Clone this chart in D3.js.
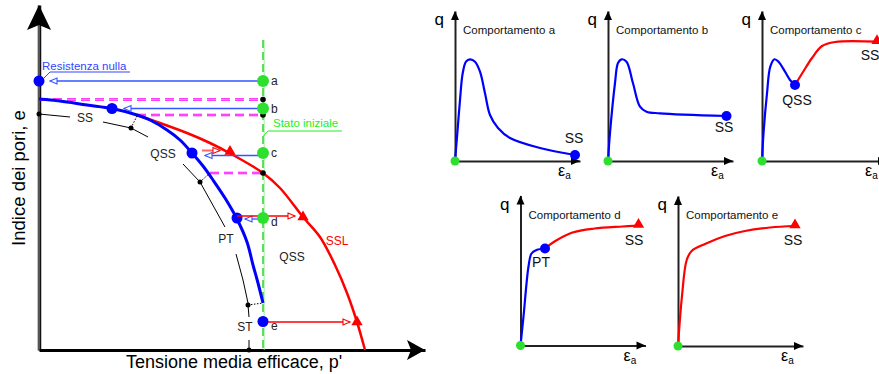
<!DOCTYPE html>
<html>
<head>
<meta charset="utf-8">
<script src="https://cdn.jsdelivr.net/npm/d3@7"></script>
<style>
  body { margin: 0; background: #fff; }
  svg { font-family: "Liberation Sans", Arial, sans-serif; display: block; }
</style>
</head>
<body>
<div id="chart"></div>
<script>
// ---- main diagram, drawing units: p' to the right, e upward ----
var qssLine = [[0,251],[21,249],[48,245],[73,241.5],[98,235],[111,230],[128,220],[141,210],[153,197],[164,184],[174,170],[186,152],[198,131],[208,108],[214,85],[219,67],[224,47]];
var sslLine = [[98,235],[121,227],[148,217],[171,207],[194,195],[224,177],[241,162],[264,133],[281,113],[296,85],[308,57],[318,28],[326,0]];
var initP = 224; // stato iniziale

var startNames = ['a','b','c','d','e'];
var startE = [269, 241.5, 197, 132, 28.5];

// undrained paths going left to the QSS line
var collapseE = [269, 241.5, 194.5, 131];
var collapseTip = [11, 85, 166, 206];
var qssDotP = [0, 73, 153, 198];
var qssDotE = [269, 241.5, 197, 132];

// paths going right to the SSL
var hardenFrom = [163, 198, 224];
var hardenTip = [181, 256, 311];
var hardenE = [199.5, 134, 28];
var sslHitP = [191, 264, 318];
var sslHitE = [198.5, 133, 28];

// dashed magenta bands
var bandE = [250.5, 235, 177];
var bandFrom = [0, 98, 171];

// black zone boundaries
var boundSegs = [
  [[0,236],[31,233]],
  [[64,228],[92,222],[109,213]],
  [[144,186],[161,168],[186,123]],
  [[197,96],[204,70],[209,47]],
  [[209,45],[210,33]],
  [[210,10],[210,0]]
];
var boundDots = [[0,236],[92,222],[161,168],[209,45],[210,0]];
var tieSegs = [[[92,222],[98,234]], [[161,168],[171,177]], [[209,45],[224,47]]];

var zoneNames = ['SS','QSS','PT','QSS','ST'];
var zoneP = [46, 124, 187, 253, 206];
var zoneE = [232, 196, 111, 93, 23];

// ---- small q - eps_a panels ----
var panelTitles = ['Comportamento a','Comportamento b','Comportamento c','Comportamento d','Comportamento e'];
var curveA = [[0,0],[2.3,27.7],[5,61],[7.7,87.7],[11,99.3],[15,101.7],[20,99.3],[25,89.3],[30,67.7],[35,46],[43,33],[55,23],[85,13],[120,6]];
var curveB = [[0,0],[2,28],[7,78],[10,98],[13.5,101.7],[18.5,99.3],[25,77.7],[32,54.3],[38.5,49.3],[52,47.7],[118.5,45]];
var curveCqss = [[0,0],[1.5,27.7],[5,67.7],[8.3,94.3],[12.5,101.7],[16.5,99.3],[23,89.3],[28,81],[33,76]];
var curveCss = [[33,76],[41,89],[50,103],[60,115],[73,119],[115,119.3]];
var curveDpt = [[0,0],[3,29],[8,79],[11,92],[16,95.5],[24.5,97]];
var curveDss = [[24.5,97],[34,104],[52,113],[74,117],[102,119],[118,120]];
var curveE = [[0,0],[4,50],[8.7,86],[13.7,95],[27,102],[47,110],[67,115],[92,118.5],[117,120]];

var endLabels = [
  [['SS',119,23]],
  [['SS',116,34]],
  [['QSS',35,61],['SS',108,106]],
  [['PT',20.5,83.5],['SS',113.5,105.5]],
  [['SS',115,106]]
];

var BLUE = '#0000ff', RED = '#ff0000', GREEN = '#2ee02e', MAG = '#ff00ff';

var svg = d3.select('#chart').append('svg')
  .attr('width', 879).attr('height', 374);

var x = d3.scaleLinear().domain([0, 386]).range([39, 425]);
var y = d3.scaleLinear().domain([0, 345]).range([350, 5]);

var line = d3.line().x(function(d){ return x(d[0]); }).y(function(d){ return y(d[1]); });
var smooth = d3.line().curve(d3.curveCatmullRom.alpha(0.5))
  .x(function(d){ return x(d[0]); }).y(function(d){ return y(d[1]); });

function openHead(g, tx, ty, dir, color) {
  g.append('path')
    .attr('d', 'M' + tx + ',' + ty + 'L' + (tx - dir * 7) + ',' + (ty - 3) + 'L' + (tx - dir * 7) + ',' + (ty + 3) + 'Z')
    .attr('fill', '#fff').attr('stroke', color).attr('stroke-width', 1.1);
}
function redTri(g, cx, cy, size) {
  g.append('path')
    .attr('d', d3.symbol(d3.symbolTriangle).size(size || 50)())
    .attr('transform', 'translate(' + cx + ',' + cy + ')')
    .attr('fill', RED);
}

var main = svg.append('g');

// axes
var yAx = main.append('g').attr('transform', 'translate(' + x(0) + ',0)')
  .call(d3.axisLeft(y).ticks(0).tickSizeOuter(0));
yAx.select('.domain').attr('stroke', '#111').attr('stroke-width', 3.5);
main.append('line').attr('x1', x(0)).attr('x2', x(0)).attr('y1', y(0)).attr('y2', y(330))
  .attr('stroke', '#999').attr('stroke-width', 1);
var xAx = main.append('g').attr('transform', 'translate(0,' + y(0) + ')')
  .call(d3.axisBottom(x).ticks(0).tickSizeOuter(0));
xAx.select('.domain').attr('stroke', '#000').attr('stroke-width', 3);

var ty0 = y(345), tx0 = x(386);
main.append('path')
  .attr('d', 'M' + x(0) + ',' + ty0 + 'L' + (x(0) - 12) + ',' + (ty0 + 25) + 'L' + x(0) + ',' + (ty0 + 20) + 'L' + (x(0) + 12) + ',' + (ty0 + 25) + 'Z')
  .attr('fill', '#000');
main.append('path')
  .attr('d', 'M' + tx0 + ',' + y(0) + 'L' + (tx0 - 18) + ',' + (y(0) - 10) + 'L' + (tx0 - 14) + ',' + y(0) + 'L' + (tx0 - 18) + ',' + (y(0) + 10) + 'Z')
  .attr('fill', '#000');

main.append('text')
  .attr('transform', 'translate(19,' + y(172) + ') rotate(-90)')
  .attr('text-anchor', 'middle').attr('dy', '0.35em')
  .style('font-size', '18.5px').text('Indice dei pori, e');
main.append('text')
  .attr('x', 234).attr('y', 368).attr('text-anchor', 'middle')
  .style('font-size', '18px').text("Tensione media efficace, p'");

// initial state line
main.append('line')
  .attr('x1', x(initP) + 1.2).attr('x2', x(initP) + 1.2).attr('y1', y(310)).attr('y2', y(0))
  .attr('stroke', '#8e8').attr('stroke-width', 0.8);
main.append('line')
  .attr('x1', x(initP)).attr('x2', x(initP)).attr('y1', y(310)).attr('y2', y(0))
  .attr('stroke', '#1c1').attr('stroke-width', 1.3).attr('stroke-dasharray', '8,4');

// dashed bands
bandE.forEach(function(e, i){
  main.append('line')
    .attr('x1', x(bandFrom[i])).attr('x2', x(initP)).attr('y1', y(e)).attr('y2', y(e))
    .attr('stroke', MAG).attr('stroke-width', 2.6).attr('stroke-dasharray', '9,5');
  main.append('line')
    .attr('x1', x(bandFrom[i])).attr('x2', x(initP)).attr('y1', y(e)).attr('y2', y(e))
    .attr('stroke', '#fbf').attr('stroke-width', 0.7).attr('stroke-dasharray', '9,5');
});

// SSL and QSS lines
main.append('path').datum(sslLine).attr('d', smooth)
  .attr('fill', 'none').attr('stroke', RED).attr('stroke-width', 2.5);
main.append('path').datum(qssLine).attr('d', smooth)
  .attr('fill', 'none').attr('stroke', BLUE).attr('stroke-width', 3);

// boundaries
boundSegs.forEach(function(s){
  main.append('path').datum(s).attr('d', line)
    .attr('fill', 'none').attr('stroke', '#000').attr('stroke-width', 1);
});
tieSegs.forEach(function(s){
  main.append('path').datum(s).attr('d', line)
    .attr('fill', 'none').attr('stroke', '#000').attr('stroke-width', 1).attr('stroke-dasharray', '1.5,1.5');
});
boundDots.forEach(function(d){
  main.append('circle').attr('cx', x(d[0])).attr('cy', y(d[1])).attr('r', 2.5).attr('fill', '#000');
});
bandE.forEach(function(e){
  main.append('circle').attr('cx', x(initP)).attr('cy', y(e)).attr('r', 2.8).attr('fill', '#000');
});

// arrows to the QSS line
collapseE.forEach(function(e, i){
  main.append('line')
    .attr('x1', x(initP)).attr('x2', x(collapseTip[i])).attr('y1', y(e)).attr('y2', y(e))
    .attr('stroke', '#3355ff').attr('stroke-width', 1.3);
  openHead(main, x(collapseTip[i]), y(e), -1, '#3355ff');
  main.append('circle').attr('cx', x(qssDotP[i])).attr('cy', y(qssDotE[i])).attr('r', 5.5).attr('fill', BLUE);
});

// arrows to the SSL
hardenE.forEach(function(e, i){
  main.append('line')
    .attr('x1', x(hardenFrom[i])).attr('x2', x(hardenTip[i])).attr('y1', y(e)).attr('y2', y(e))
    .attr('stroke', i === 0 ? '#ff6666' : RED).attr('stroke-width', i === 0 ? 2 : 1.3);
  openHead(main, x(hardenTip[i]), y(e), 1, RED);
  redTri(main, x(sslHitP[i]), y(sslHitE[i]), 55);
});

// starting points
startE.forEach(function(e, i){
  main.append('circle').attr('cx', x(initP)).attr('cy', y(e)).attr('r', i === 4 ? 5.5 : 6)
    .attr('fill', i === 4 ? BLUE : GREEN);
  main.append('text').attr('x', x(initP) + 8).attr('y', y(e) + (i >= 3 ? 8 : 4))
    .style('font-size', '12px').attr('fill', '#222').text(startNames[i]);
});

// zone labels
zoneNames.forEach(function(t, i){
  main.append('text').attr('x', x(zoneP[i])).attr('y', y(zoneE[i])).attr('dy', '0.35em')
    .attr('text-anchor', 'middle').style('font-size', '12px').attr('fill', '#222').text(t);
});
main.append('text').attr('x', x(298)).attr('y', y(109)).attr('dy', '0.35em')
  .attr('text-anchor', 'middle').style('font-size', '12px').attr('fill', RED).text('SSL');

// callouts
main.append('text').attr('x', x(3)).attr('y', y(280)).style('font-size', '11.5px')
  .attr('fill', '#3344ff').text('Resistenza nulla');
main.append('path').datum([[5,272],[11,278],[91,278]]).attr('d', line)
  .attr('fill', 'none').attr('stroke', '#3344ff').attr('stroke-width', 1);
main.append('text').attr('x', x(234)).attr('y', y(223)).style('font-size', '11.5px')
  .attr('fill', '#22ee22').text('Stato iniziale');
main.append('path').datum([[224.5,214],[229,219],[303,219]]).attr('d', line)
  .attr('fill', 'none').attr('stroke', '#22ee22').attr('stroke-width', 1);

// ---- small panels ----
var origins = [[455,161],[608,161],[762,161],[520.5,345.5],[678,346]];
var panelCurves = [
  [[curveA, BLUE]],
  [[curveB, BLUE]],
  [[curveCqss, BLUE],[curveCss, RED]],
  [[curveDpt, BLUE],[curveDss, RED]],
  [[curveE, RED]]
];

origins.forEach(function(o, k){
  var px = d3.scaleLinear().domain([0, 125]).range([o[0], o[0] + 125]);
  var py = d3.scaleLinear().domain([0, 150]).range([o[1], o[1] - 150]);
  var g = svg.append('g');
  var pl = d3.line().curve(d3.curveCatmullRom.alpha(0.5))
    .x(function(d){ return px(d[0]); }).y(function(d){ return py(d[1]); });

  var ya = g.append('g').attr('transform', 'translate(' + px(0) + ',0)')
    .call(d3.axisLeft(py).ticks(0).tickSizeOuter(0));
  ya.select('.domain').attr('stroke', '#222').attr('stroke-width', 2);
  var xa = g.append('g').attr('transform', 'translate(0,' + py(0) + ')')
    .call(d3.axisBottom(px).ticks(0).tickSizeOuter(0));
  xa.select('.domain').attr('stroke', '#222').attr('stroke-width', 2);

  var tipY = py(150), tipX = px(125);
  g.append('path')
    .attr('d', 'M' + px(0) + ',' + tipY + 'L' + (px(0) - 4) + ',' + (tipY + 9) + 'L' + (px(0) + 4) + ',' + (tipY + 9) + 'Z')
    .attr('fill', '#000');
  g.append('path')
    .attr('d', 'M' + tipX + ',' + py(0) + 'L' + (tipX - 9) + ',' + (py(0) - 4) + 'L' + (tipX - 9) + ',' + (py(0) + 4) + 'Z')
    .attr('fill', '#000');

  g.append('text').attr('x', px(0) - 11).attr('y', py(0) - 136).attr('text-anchor', 'end')
    .style('font-size', '17px').text('q');
  g.append('text').attr('x', px(0) + 8).attr('y', py(0) - 127)
    .style('font-size', '11.5px').attr('fill', '#111').text(panelTitles[k]);
  var eps = g.append('text').attr('x', px(103)).attr('y', py(0) + 15).style('font-size', '16px');
  eps.append('tspan').text('ε');
  eps.append('tspan').attr('dy', 3).style('font-size', '10px').text('a');

  panelCurves[k].forEach(function(c){
    g.append('path').datum(c[0]).attr('d', pl)
      .attr('fill', 'none').attr('stroke', c[1]).attr('stroke-width', 2.2);
  });

  // end markers
  panelCurves[k].forEach(function(c){
    var last = c[0][c[0].length - 1];
    if (c[1] === BLUE) {
      g.append('circle').attr('cx', px(last[0])).attr('cy', py(last[1])).attr('r', 5).attr('fill', BLUE);
    } else {
      redTri(g, px(last[0]), py(last[1]) - 1, 55);
    }
  });
  g.append('circle').attr('cx', px(0)).attr('cy', py(0)).attr('r', 4.5).attr('fill', GREEN);

  endLabels[k].forEach(function(l){
    g.append('text').attr('x', px(l[1])).attr('y', py(l[2])).attr('dy', '0.35em')
      .attr('text-anchor', 'middle').style('font-size', '14px').attr('fill', '#111').text(l[0]);
  });
});
</script>
</body>
</html>
